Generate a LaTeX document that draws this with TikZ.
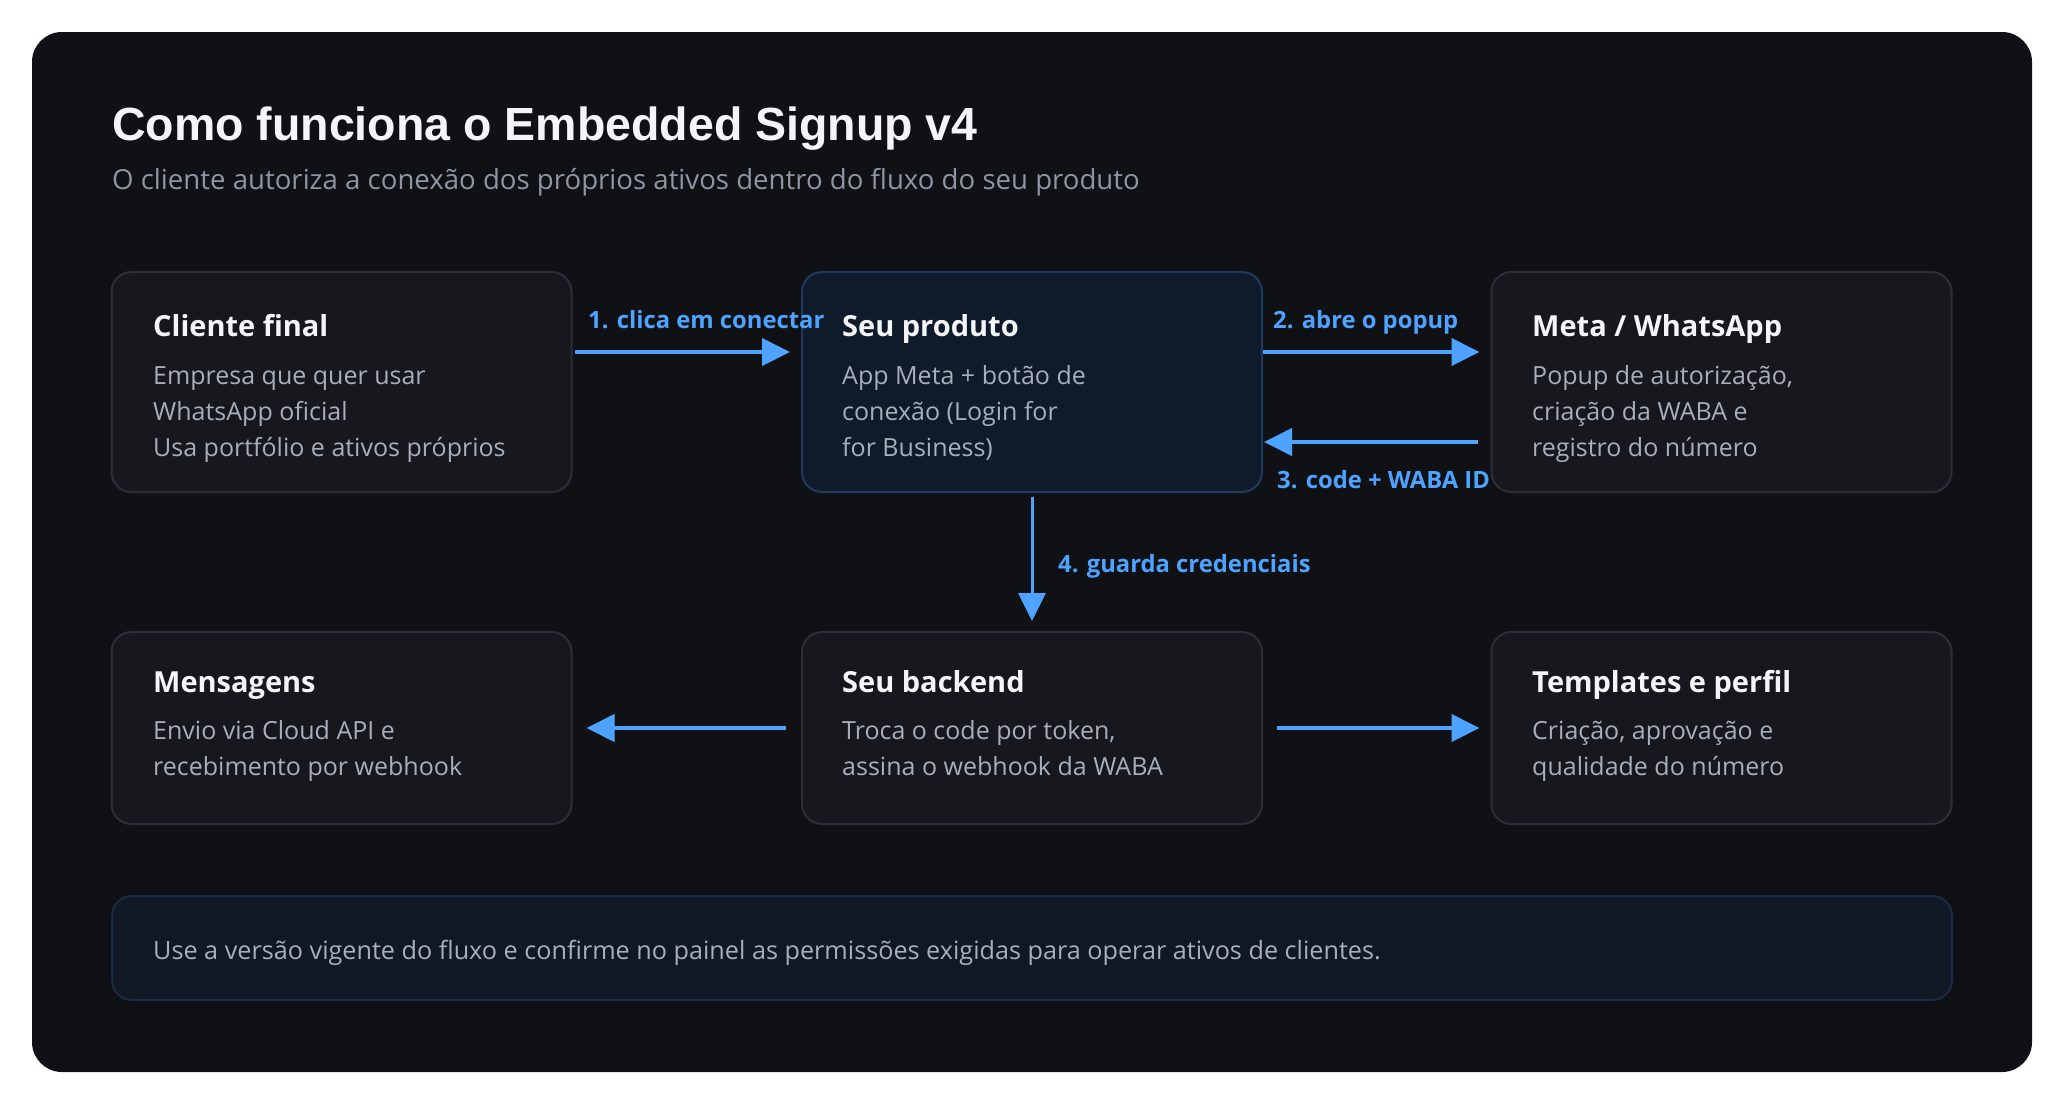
\documentclass[tikz,border=0pt]{standalone}
\usepackage{fontspec}
\setmainfont{Open Sans}
\newfontfamily\titlefont{Liberation Sans}
\usetikzlibrary{arrows.meta,calc}
\definecolor{panelbg}{HTML}{0F1115}
\definecolor{boxfill}{HTML}{16181E}
\definecolor{boxline}{HTML}{2B2F38}
\definecolor{prodfill}{HTML}{0F1A2A}
\definecolor{prodline}{HTML}{1E3A5F}
\definecolor{footfill}{HTML}{0F1824}
\definecolor{footline}{HTML}{1A2C44}
\definecolor{accent}{HTML}{4DA3FF}
\definecolor{titlecol}{HTML}{F3F5F7}
\definecolor{subcol}{HTML}{8D96A3}
\definecolor{bodycol}{HTML}{A7AFBB}
\tikzset{
  card/.style={draw=boxline, fill=boxfill, line width=2pt, rounded corners=20pt,
    minimum width=460pt, minimum height=220pt, inner sep=0pt},
  prodcard/.style={card, draw=prodline, fill=prodfill},
  lowcard/.style={card, minimum height=192pt},
  cardtitle/.style={anchor=base west, inner sep=0pt, text=titlecol, font=\fontsize{29}{34}\selectfont\bfseries},
  cardbody/.style={anchor=base west, inner sep=0pt, text=bodycol, font=\fontsize{25}{28}\selectfont},
  flow/.style={draw=accent, line width=4pt, -{Triangle[length=28pt,width=27pt]}},
  flowlabel/.style={anchor=base west, inner sep=0pt, text=accent, font=\fontsize{23.8}{27}\selectfont\bfseries},
}
\begin{document}
\begin{tikzpicture}[x=1pt,y=-1pt]
\useasboundingbox (0,0) rectangle (2064,1104);
\fill[white] (0,0) rectangle (2064,1104);
\fill[panelbg, rounded corners=30pt] (32,32) rectangle (2032,1072);

\node[anchor=base west, inner sep=0pt, text=titlecol, font=\titlefont\fontsize{46.5}{56}\selectfont\bfseries] (title) at (112,140) {Como funciona o Embedded Signup v4};
\node[anchor=base west, inner sep=0pt, text=subcol, font=\fontsize{27.6}{34}\selectfont] (subtitle) at (112,189) {O cliente autoriza a conexão dos próprios ativos dentro do fluxo do seu produto};

% row 1
\node[card] (c1) at (341.5,382) {};
\node[prodcard] (c2) at (1032,382) {};
\node[card] (c3) at (1721.5,382) {};
% row 2
\node[lowcard] (m) at (341.5,728) {};
\node[lowcard] (b) at (1032,728) {};
\node[lowcard] (t) at (1721.5,728) {};
% footer
\node[draw=footline, fill=footfill, line width=2pt, rounded corners=20pt, minimum width=1840pt, minimum height=104pt, inner sep=0pt] (foot) at (1032,948) {};

% texts row 1
\node[cardtitle] (c1t) at (153,336) {Cliente final};
\node[cardbody] (c1a) at (153,384) {Empresa que quer usar};
\node[cardbody] (c1b) at (153,420) {WhatsApp oficial};
\node[cardbody] (c1c) at (153,456) {Usa portfólio e ativos próprios};

\node[cardtitle] (c2t) at (842,336) {Seu produto};
\node[cardbody] (c2a) at (842,384) {App Meta + botão de};
\node[cardbody] (c2b) at (842,420) {conexão (Login for};
\node[cardbody] (c2c) at (842,456) {for Business)};

\node[cardtitle] (c3t) at (1532,336) {Meta / WhatsApp};
\node[cardbody] (c3a) at (1532,384) {Popup de autorização,};
\node[cardbody] (c3b) at (1532,420) {criação da WABA e};
\node[cardbody] (c3c) at (1532,456) {registro do número};

% texts row 2
\node[cardtitle] (mt) at (153,692) {Mensagens};
\node[cardbody] (ma) at (153,739) {Envio via Cloud API e};
\node[cardbody] (mb) at (153,775) {recebimento por webhook};

\node[cardtitle] (bt) at (842,692) {Seu backend};
\node[cardbody] (ba) at (842,739) {Troca o code por token,};
\node[cardbody] (bb) at (842,775) {assina o webhook da WABA};

\node[cardtitle] (tt) at (1532,692) {Templates e perfil};
\node[cardbody] (ta) at (1532,739) {Criação, aprovação e};
\node[cardbody] (tb) at (1532,775) {qualidade do número};

\node[cardbody, font=\fontsize{25.2}{28}\selectfont] (foottext) at (153,959) {Use a versão vigente do fluxo e confirme no painel as permissões exigidas para operar ativos de clientes.};

% arrows
\draw[flow, shorten <=2pt, shorten >=11pt] ([yshift=30pt]c1.east) -- ([yshift=30pt]c2.west);
\draw[flow, shorten >=11pt] ([yshift=30pt]c2.east) -- ([yshift=30pt]c3.west);
\draw[flow, shorten <=13pt, shorten >=1pt] ([yshift=-60pt]c3.west) -- ([yshift=-60pt]c2.east);
\draw[flow, line width=3pt, shorten <=4pt, shorten >=10pt] (c2.south) -- (b.north);
\draw[flow, shorten <=15pt, shorten >=14pt] (b.west) -- (m.east);
\draw[flow, shorten <=14pt, shorten >=11pt] (b.east) -- (t.west);

\node[flowlabel] (l1) at (588,328) {1. clica em conectar};
\node[flowlabel] (l2) at (1273,328) {2. abre o popup};
\node[flowlabel] (l3) at (1277,488) {3. code + WABA ID};
\node[flowlabel] (l4) at (1058,572) {4. guarda credenciais};
\end{tikzpicture}
\end{document}
